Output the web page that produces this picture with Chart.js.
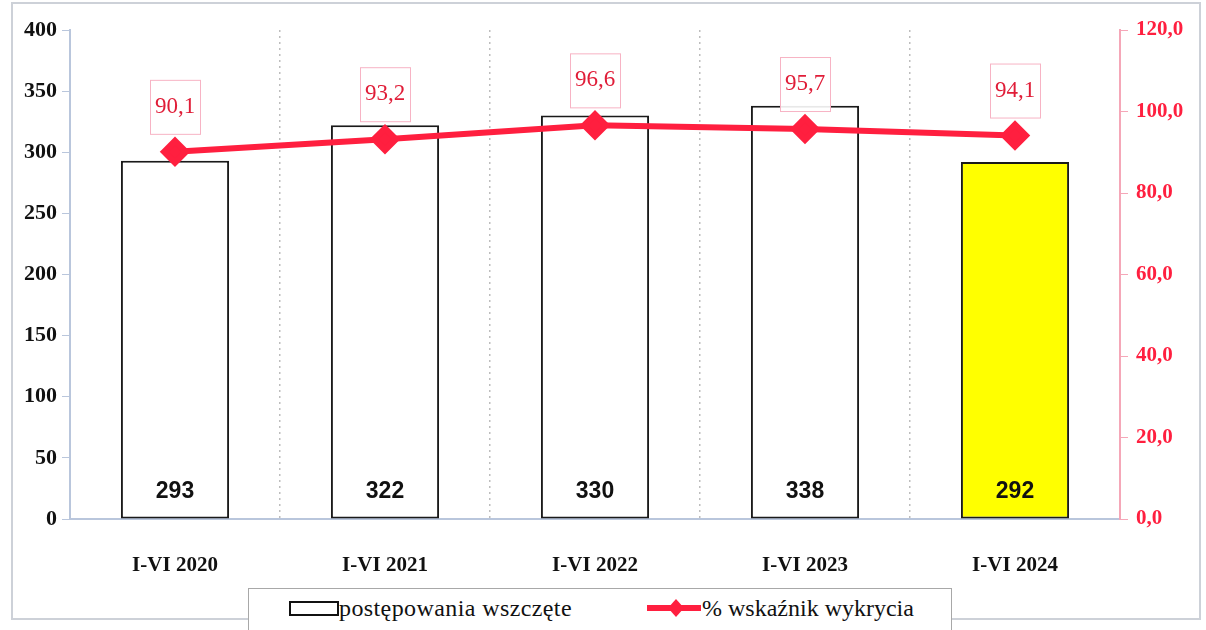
<!DOCTYPE html>
<html>
<head>
<meta charset="utf-8">
<script src="https://cdn.jsdelivr.net/npm/chart.js@4"></script>
<style>
    html, body { margin: 0; padding: 0; background: #fff; }
    #wrap { position: relative; width: 1206px; height: 630px; overflow: hidden; }
    #frame { position: absolute; left: 11px; top: 2px; width: 1190px; height: 618px; border: 2px solid #cdd1d8; box-sizing: border-box; pointer-events: none; }
    #legend { position: absolute; left: 248px; top: 588px; width: 704px; height: 44px; border: 1px solid #a8a8a8; background: #fff; box-sizing: border-box; font-family: "Liberation Serif", "Times New Roman", Times, serif; font-size: 24px; color: #111; }
    #legend .item { position: absolute; top: 3px; height: 32px; line-height: 32px; white-space: nowrap; }
    #legend .box { display: inline-block; width: 46px; height: 11px; border: 2px solid #111; vertical-align: middle; position: relative; top: -2px; }
    #legend canvas { vertical-align: middle; position: relative; top: -2px; }
</style>
</head>
<body>
<div id="wrap">
    <canvas id="chart" width="1206" height="630"></canvas>
    <div id="frame"></div>
    <div id="legend">
        <div class="item" style="left: 40px; letter-spacing: 0.4px;"><span class="box"></span>postępowania wszczęte</div>
        <div class="item" style="left: 397px;"><canvas id="legend-line" width="56" height="24"></canvas>% wskaźnik wykrycia</div>
    </div>
</div>
<script>
// dane wykresu
const categories = ['I-VI 2020', 'I-VI 2021', 'I-VI 2022', 'I-VI 2023', 'I-VI 2024'];
const casesStarted = [293, 322, 330, 338, 292];
const detectionRate = [90.1, 93.2, 96.6, 95.7, 94.1];
const leftTicks = [0, 50, 100, 150, 200, 250, 300, 350, 400];
const rightTicks = [0, 20, 40, 60, 80, 100, 120];

const RED = '#ff1f3f';
const SERIF = '"Liberation Serif", "Times New Roman", Times, serif';
const SANS = '"Liberation Sans", Arial, sans-serif';
const barFills = casesStarted.map((v, i) => i === casesStarted.length - 1 ? '#ffff00' : '#ffffff');

const fmt = v => v.toFixed(1).replace('.', ',');

// etykiety wartości
const labelsPlugin = {
    id: 'valueLabels',
    afterDatasetsDraw(chart) {
        const ctx = chart.ctx;
        const yScale = chart.scales.y;
        // słupki (dataset 1): wartość przy podstawie
        chart.getDatasetMeta(1).data.forEach((bar, i) => {
            ctx.save();
            ctx.font = 'bold 23px ' + SANS;
            ctx.fillStyle = '#111';
            ctx.textAlign = 'center';
            ctx.textBaseline = 'middle';
            ctx.fillText(String(casesStarted[i]), bar.x, yScale.getPixelForValue(0) - 27);
            ctx.restore();
        });
        // linia (dataset 0): wartość w różowej ramce
        chart.getDatasetMeta(0).data.forEach((pt, i) => {
            const cy = pt.y - 45;
            ctx.save();
            ctx.fillStyle = 'rgba(255,255,255,0.9)';
            ctx.fillRect(pt.x - 25, cy - 27, 50, 54);
            ctx.strokeStyle = '#f7b3c4';
            ctx.lineWidth = 1;
            ctx.strokeRect(pt.x - 25 + 0.5, cy - 27 + 0.5, 50, 54);
            ctx.font = '23px ' + SERIF;
            ctx.fillStyle = '#e01d38';
            ctx.textAlign = 'center';
            ctx.textBaseline = 'middle';
            ctx.fillText(fmt(detectionRate[i]), pt.x, cy);
            ctx.restore();
        });
    }
};

async function init() {
    // poczekaj na fonty
    try {
        await Promise.all([
            document.fonts.load('bold 22px "Liberation Serif"'),
            document.fonts.load('22px "Liberation Serif"'),
            document.fonts.load('bold 23px "Liberation Sans"')
        ]);
    } catch (e) {
        console.error('Font load failed:', e);
    }

    const ctx = document.getElementById('chart').getContext('2d');
    new Chart(ctx, {
        data: {
            labels: categories,
            datasets: [
                {
                    type: 'line',
                    label: '% wskaźnik wykrycia',
                    data: detectionRate,
                    yAxisID: 'y1',
                    borderColor: RED,
                    backgroundColor: RED,
                    borderWidth: 6,
                    pointStyle: 'rectRot',
                    pointRadius: 11,
                    pointBackgroundColor: RED,
                    pointBorderColor: RED,
                    tension: 0,
                    order: 0
                },
                {
                    type: 'bar',
                    label: 'postępowania wszczęte',
                    data: casesStarted,
                    yAxisID: 'y',
                    backgroundColor: barFills,
                    borderColor: '#1a1a1a',
                    borderWidth: 2,
                    borderSkipped: false,
                    barPercentage: 0.515,
                    categoryPercentage: 1,
                    order: 1
                }
            ]
        },
        options: {
            responsive: false,
            animation: false,
            layout: { padding: { top: 30, left: 0, right: 0, bottom: 0 } },
            plugins: {
                legend: { display: false },
                tooltip: { enabled: false }
            },
            scales: {
                x: {
                    offset: true,
                    afterFit: s => { s.height = 111; },
                    grid: {
                        offset: true,
                        drawTicks: false,
                        color: c => (c.index === 0 || c.index === categories.length) ? 'rgba(0,0,0,0)' : '#bdbdbd',
                        lineWidth: 1.5
                    },
                    border: { color: '#b9c6dc', width: 2, dash: [2, 4] },
                    ticks: {
                        padding: 34,
                        color: '#111',
                        font: { family: SERIF, size: 21, weight: 'bold' }
                    }
                },
                y: {
                    position: 'left',
                    min: 0,
                    max: 400,
                    afterFit: s => { s.width = 70; },
                    afterBuildTicks: s => { s.ticks = leftTicks.map(v => ({ value: v })); },
                    grid: { drawOnChartArea: false, tickLength: 8, color: '#b9c6dc' },
                    border: { color: '#b9c6dc', width: 2 },
                    ticks: {
                        padding: 5,
                        color: '#111',
                        font: { family: SERIF, size: 22, weight: 'bold' }
                    }
                },
                y1: {
                    position: 'right',
                    min: 0,
                    max: 120,
                    afterFit: s => { s.width = 86; },
                    afterBuildTicks: s => { s.ticks = rightTicks.map(v => ({ value: v })); },
                    grid: { drawOnChartArea: false, tickLength: 8, color: '#f5a7b8' },
                    border: { color: '#f5a7b8', width: 2 },
                    ticks: {
                        padding: 8,
                        color: RED,
                        callback: v => fmt(v),
                        font: { family: SERIF, size: 21, weight: 'bold' }
                    }
                }
            }
        },
        plugins: [labelsPlugin]
    });

    // symbol linii w legendzie
    const lc = document.getElementById('legend-line').getContext('2d');
    lc.strokeStyle = RED;
    lc.lineWidth = 6;
    lc.beginPath();
    lc.moveTo(1, 12);
    lc.lineTo(55, 12);
    lc.stroke();
    lc.fillStyle = RED;
    lc.beginPath();
    lc.moveTo(30, 3);
    lc.lineTo(38, 12);
    lc.lineTo(30, 21);
    lc.lineTo(22, 12);
    lc.closePath();
    lc.fill();
}

document.addEventListener('DOMContentLoaded', init);
</script>
</body>
</html>
